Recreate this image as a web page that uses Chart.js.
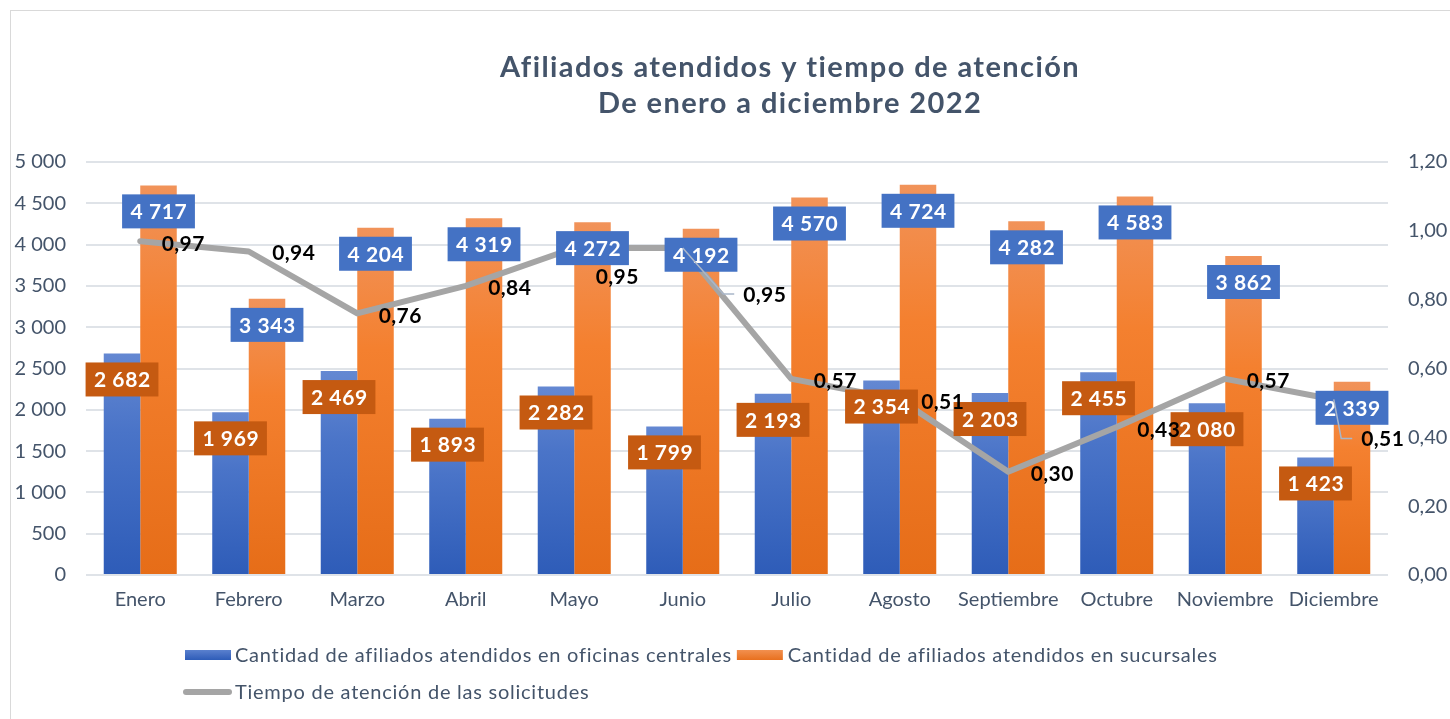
<!DOCTYPE html>
<html>
<head>
<meta charset="utf-8">
<script src="https://cdn.jsdelivr.net/npm/chart.js@4.4.1/dist/chart.umd.min.js"></script>
<style>
  html, body { margin: 0; padding: 0; background: #fff; }
  #wrap { width: 1450px; height: 719px; position: relative; }
</style>
</head>
<body>
<div id="wrap"><canvas id="c" width="1450" height="719"></canvas></div>
<script>
// ---------- DATA ----------
const categories = ['Enero','Febrero','Marzo','Abril','Mayo','Junio','Julio','Agosto','Septiembre','Octubre','Noviembre','Diciembre'];
const oficinasCentrales = [2682, 1969, 2469, 1893, 2282, 1799, 2193, 2354, 2203, 2455, 2080, 1423];
const sucursales = [4717, 3343, 4204, 4319, 4272, 4192, 4570, 4724, 4282, 4583, 3862, 2339];
const tiempoAtencion = [0.97, 0.94, 0.76, 0.84, 0.95, 0.95, 0.57, 0.51, 0.30, 0.43, 0.57, 0.51];
const seriesNames = [
  'Cantidad de afiliados atendidos en oficinas centrales',
  'Cantidad de afiliados atendidos en sucursales',
  'Tiempo de atención de las solicitudes'
];
const titleLines = ['Afiliados atendidos y tiempo de atención', 'De enero a diciembre 2022'];
const leftTicks = { min: 0, max: 5000, step: 500 };
const rightTicks = { min: 0, max: 1.2, step: 0.2 };

// ---------- STYLE / LAYOUT ----------
const FONT = 'Lato';
const TEXT = '#44546A';
// per-label offsets for line labels (px from point: dx to label centre, dy), and leader flag
const lineLabelOffsets = [[43,2],[45,1],[43,2],[44,1],[43,28],[82,46,true],[44,1],[43,2],[44,1],[42,2],[43,1],[49,39,true]];

const fmtK = v => String(v).replace(/\B(?=(\d{3})+(?!\d))/g, ' ');
const fmtDec = v => Number(v).toFixed(2).replace('.', ',');

function barGradient(top, mid, bottom) {
  return (ctx) => {
    const chart = ctx.chart;
    if (ctx.type !== 'data' || !chart.chartArea || !chart.scales.y) return bottom;
    const y = chart.scales.y;
    const yTop = y.getPixelForValue(ctx.raw);
    const yBot = y.getPixelForValue(0);
    if (!isFinite(yTop) || !isFinite(yBot) || yTop === yBot) return bottom;
    const g = chart.ctx.createLinearGradient(0, yTop, 0, yBot);
    g.addColorStop(0, top);
    g.addColorStop(0.35, mid);
    g.addColorStop(1, bottom);
    return g;
  };
}

const decorPlugin = {
  id: 'decor',
  beforeDraw(chart) {
    const { ctx } = chart;
    ctx.save();
    ctx.fillStyle = '#fff';
    ctx.fillRect(0, 0, chart.width, chart.height);
    ctx.strokeStyle = '#D9D9D9';
    ctx.lineWidth = 1;
    ctx.strokeRect(10.5, 10.5, chart.width, chart.height);
    // title
    ctx.fillStyle = TEXT;
    ctx.font = `bold 29px ${FONT}`;
    ctx.letterSpacing = '1.4px';
    ctx.textAlign = 'center';
    ctx.textBaseline = 'middle';
    ctx.fillText(titleLines[0], 790, 68);
    ctx.fillText(titleLines[1], 790, 104);
    ctx.letterSpacing = '0px';
    ctx.restore();
  },
  afterDraw(chart) {
    const { ctx } = chart;
    ctx.save();
    ctx.font = `20px ${FONT}`;
    ctx.letterSpacing = '0.75px';
    ctx.textBaseline = 'middle';
    ctx.textAlign = 'left';
    // row 1
    let x = 185, y = 655;
    const sw = 46;
    let g = ctx.createLinearGradient(0, y - 5, 0, y + 5);
    g.addColorStop(0, '#5A80CE'); g.addColorStop(1, '#2E5CB8');
    ctx.fillStyle = g; ctx.fillRect(x, y - 5, sw, 10);
    x += sw + 4;
    ctx.fillStyle = TEXT; ctx.fillText(seriesNames[0], x, y + 1);
    x += ctx.measureText(seriesNames[0]).width + 5;
    g = ctx.createLinearGradient(0, y - 5, 0, y + 5);
    g.addColorStop(0, '#F2904F'); g.addColorStop(1, '#E8701E');
    ctx.fillStyle = g; ctx.fillRect(x, y - 5, sw, 10);
    x += sw + 5;
    ctx.fillStyle = TEXT; ctx.fillText(seriesNames[1], x, y + 1);
    // row 2
    y = 692; x = 186;
    ctx.strokeStyle = '#A5A5A5'; ctx.lineWidth = 6; ctx.lineCap = 'round';
    ctx.beginPath(); ctx.moveTo(x, y); ctx.lineTo(x + 43, y); ctx.stroke();
    ctx.fillStyle = TEXT; ctx.fillText(seriesNames[2], x + 49, y + 1);
    ctx.letterSpacing = '0px';
    ctx.restore();
  },
  afterDatasetsDraw(chart) {
    const { ctx } = chart;
    ctx.save();
    // bar labels (colors swapped as in the original)
    [[0, '#C55A11'], [1, '#4472C4']].forEach(([di, fill]) => {
      const meta = chart.getDatasetMeta(di);
      meta.data.forEach((bar, i) => {
        const text = fmtK(chart.data.datasets[di].data[i]);
        ctx.font = `bold 21px ${FONT}`;
        ctx.letterSpacing = '0.6px';
        const tw = ctx.measureText(text).width;
        const w = Math.max(70, tw + 16), h = 34;
        const cx = bar.x, cy = bar.y + 26;
        ctx.fillStyle = fill;
        ctx.fillRect(cx - w / 2, cy - h / 2, w, h);
        ctx.fillStyle = '#fff';
        ctx.textAlign = 'center';
        ctx.textBaseline = 'middle';
        ctx.fillText(text, cx + 0.3, cy + 1);
      });
    });
    // line labels
    const lm = chart.getDatasetMeta(2);
    lm.data.forEach((pt, i) => {
      const [dx, dy, leader] = lineLabelOffsets[i];
      const text = fmtDec(chart.data.datasets[2].data[i]);
      ctx.font = `bold 21px ${FONT}`;
      ctx.letterSpacing = '0.4px';
      const w = ctx.measureText(text).width;
      const cx = pt.x + dx, cy = pt.y + dy;
      if (leader) {
        const left = cx - w / 2;
        ctx.strokeStyle = '#A9B6C9';
        ctx.lineWidth = 1.5;
        ctx.beginPath();
        ctx.moveTo(pt.x, pt.y);
        ctx.lineTo(left - 20, cy);
        ctx.lineTo(left - 9, cy);
        ctx.stroke();
      }
      ctx.fillStyle = '#000';
      ctx.textAlign = 'center';
      ctx.textBaseline = 'middle';
      ctx.fillText(text, cx, cy + 1);
    });
    ctx.letterSpacing = '0px';
    ctx.restore();
  }
};

Chart.defaults.font.family = FONT;
Chart.defaults.color = TEXT;

new Chart(document.getElementById('c'), {
  type: 'bar',
  data: {
    labels: categories,
    datasets: [
      {
        label: seriesNames[0],
        data: oficinasCentrales,
        yAxisID: 'y',
        order: 1,
        backgroundColor: barGradient('#6488D2', '#4A74C8', '#2E5CB8'),
        categoryPercentage: 0.673,
        barPercentage: 1
      },
      {
        label: seriesNames[1],
        data: sucursales,
        yAxisID: 'y',
        order: 1,
        backgroundColor: barGradient('#F1935A', '#F4802F', '#E66D18'),
        categoryPercentage: 0.673,
        barPercentage: 1
      },
      {
        type: 'line',
        label: seriesNames[2],
        data: tiempoAtencion,
        yAxisID: 'y1',
        order: 0,
        borderColor: '#A5A5A5',
        borderWidth: 6,
        borderCapStyle: 'round',
        borderJoinStyle: 'round',
        pointRadius: 0,
        tension: 0,
        fill: false
      }
    ]
  },
  options: {
    responsive: false,
    animation: false,
    layout: { padding: { top: 162, left: 0, right: 0, bottom: 0 } },
    plugins: {
      legend: { display: false },
      title: { display: false },
      tooltip: { enabled: false }
    },
    scales: {
      x: {
        grid: { display: false, drawTicks: false },
        border: { display: false },
        ticks: { font: { size: 20 }, color: TEXT, padding: 13 },
        afterFit: s => { s.height = 144; }
      },
      y: {
        position: 'left',
        min: leftTicks.min, max: leftTicks.max,
        grid: { color: '#DFE3E8', lineWidth: 2, drawTicks: false },
        border: { display: false },
        ticks: { stepSize: leftTicks.step, font: { size: 20 }, color: TEXT, padding: 20, callback: v => fmtK(v) },
        afterFit: s => { s.width = 86; }
      },
      y1: {
        position: 'right',
        min: rightTicks.min, max: rightTicks.max,
        grid: { display: false, drawTicks: false },
        border: { display: false },
        ticks: { stepSize: rightTicks.step, font: { size: 20 }, color: TEXT, padding: 20, callback: v => fmtDec(v) },
        afterFit: s => { s.width = 62; }
      }
    }
  },
  plugins: [decorPlugin]
});
</script>
</body>
</html>
